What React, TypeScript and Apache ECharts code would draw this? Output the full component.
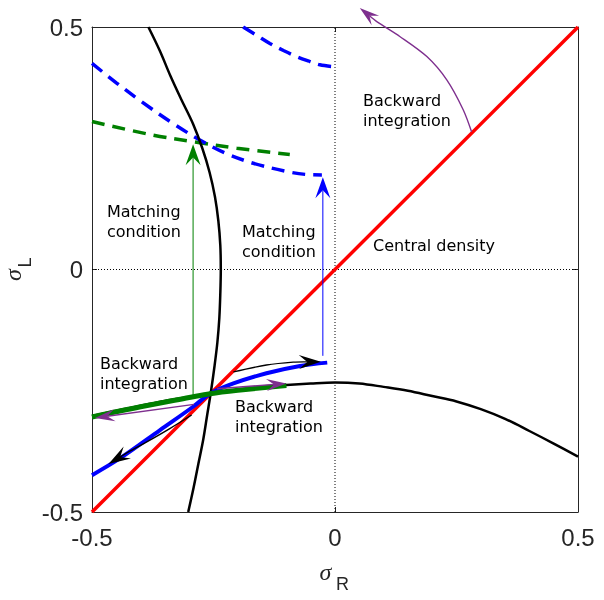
import React, { useEffect, useRef } from "react";
import * as echarts from "echarts";

const AXIS_MIN = -0.5;
const AXIS_MAX = 0.5;
const TICK_STEP = 0.5;
const tickLabels: Record<string, string> = { "-0.5": "-0.5", "0": "0", "0.5": "0.5" };

// [σR, σL]
const centralDensity: number[][] = [[-0.5, -0.5], [0.5, 0.5]];

const boundaryA: number[][] = [
  [-0.384, 0.5], [-0.36, 0.45], [-0.339, 0.4], [-0.316, 0.35], [-0.292, 0.3], [-0.273, 0.25],
  [-0.258, 0.2], [-0.247, 0.15], [-0.24, 0.1], [-0.236, 0.05], [-0.235, 0], [-0.236, -0.05],
  [-0.238, -0.1], [-0.242, -0.15], [-0.248, -0.2], [-0.255, -0.25], [-0.263, -0.3],
  [-0.271, -0.35], [-0.281, -0.4], [-0.291, -0.45], [-0.302, -0.5],
];

const boundaryB: number[][] = [
  [-0.5, -0.302], [-0.45, -0.291], [-0.4, -0.281], [-0.35, -0.271], [-0.3, -0.263], [-0.25, -0.255],
  [-0.2, -0.248], [-0.15, -0.242], [-0.1, -0.238], [-0.05, -0.235], [0, -0.233], [0.05, -0.235],
  [0.1, -0.242], [0.15, -0.25], [0.2, -0.261], [0.25, -0.272], [0.3, -0.288], [0.35, -0.308],
  [0.4, -0.333], [0.45, -0.359], [0.5, -0.386],
];

const greenSolid: number[][] = [
  [-0.5, -0.304], [-0.4, -0.283], [-0.3, -0.264], [-0.257, -0.256], [-0.2, -0.249], [-0.1, -0.239],
];

const blueSolid: number[][] = [
  [-0.5, -0.424], [-0.442, -0.389], [-0.36, -0.331], [-0.292, -0.283], [-0.257, -0.256],
  [-0.209, -0.235], [-0.141, -0.214], [-0.072, -0.199], [-0.016, -0.192],
];

const blueDashUpper: number[][] = [
  [-0.189, 0.5], [-0.16, 0.482], [-0.134, 0.466], [-0.105, 0.451], [-0.079, 0.439],
  [-0.055, 0.43], [-0.031, 0.422], [0, 0.418],
];

const blueDashLower: number[][] = [
  [-0.5, 0.425], [-0.45, 0.385], [-0.398, 0.346], [-0.333, 0.301], [-0.278, 0.267],
  [-0.226, 0.24], [-0.168, 0.219], [-0.099, 0.202], [-0.06, 0.196], [-0.027, 0.195],
];

const greenDash: number[][] = [
  [-0.5, 0.305], [-0.374, 0.277], [-0.288, 0.263], [-0.202, 0.25], [-0.093, 0.237],
];

const zeroV: number[][] = [[0, -0.5], [0, 0.5]];
const zeroH: number[][] = [[-0.5, 0], [0.5, 0]];

// arrows (last point = tip)
const arrowGreen: number[][] = [[-0.292, -0.262], [-0.292, 0.258]];
const arrowBlue: number[][] = [[-0.025, -0.178], [-0.025, 0.19]];
const arrowBlackUpper: number[][] = [[-0.209, -0.211], [-0.141, -0.197], [-0.086, -0.191], [-0.029, -0.19]];
const arrowBlackLower: number[][] = [[-0.295, -0.3], [-0.34, -0.328], [-0.39, -0.357], [-0.43, -0.379], [-0.466, -0.401]];
const arrowPurpleRight: number[][] = [[-0.243, -0.246], [-0.1, -0.235]];
const arrowPurpleLeft: number[][] = [[-0.29, -0.278], [-0.494, -0.306]];
const arrowPurpleTop: number[][] = [
  [0.281, 0.284], [0.264, 0.329], [0.23, 0.391], [0.189, 0.439], [0.134, 0.48], [0.086, 0.511], [0.051, 0.539],
];

const PURPLE = "#7E2F8E";
const GREEN = "#008000";
const BLUE = "#0000FF";
const RED = "#FF0000";
const AX = "#262626";

function lineSeries(data: number[][], color: string, width: number, dash?: any, z = 3) {
  return {
    type: "line",
    data,
    symbol: "none",
    smooth: 0.35,
    z,
    silent: true,
    lineStyle: { color, width, type: dash || "solid", cap: "butt" },
  };
}

function arrowSeries(pts: number[][], color: string, width: number, headLen: number, headHalf: number) {
  return {
    type: "custom",
    coordinateSystem: "cartesian2d",
    clip: false,
    silent: true,
    z: 6,
    data: [pts[pts.length - 1]],
    encode: { x: 0, y: 1 },
    renderItem: (_params: any, api: any) => {
      const px = pts.map((p) => api.coord(p));
      const tip = px[px.length - 1];
      const prev = px[px.length - 2];
      let dx = tip[0] - prev[0];
      let dy = tip[1] - prev[1];
      const len = Math.hypot(dx, dy) || 1;
      dx /= len;
      dy /= len;
      const nx = -dy;
      const ny = dx;
      const bx = tip[0] - dx * headLen;
      const by = tip[1] - dy * headLen;
      const notch = [tip[0] - dx * headLen * 0.62, tip[1] - dy * headLen * 0.62];
      return {
        type: "group",
        children: [
          {
            type: "polyline",
            shape: { points: px.slice(0, -1).concat([notch]), smooth: px.length > 2 ? 0.3 : 0 },
            style: { stroke: color, lineWidth: width, fill: null },
          },
          {
            type: "polygon",
            shape: {
              points: [tip, [bx + nx * headHalf, by + ny * headHalf], notch, [bx - nx * headHalf, by - ny * headHalf]],
            },
            style: { fill: color, stroke: null },
          },
        ],
      };
    },
  };
}

function annot(text: string, x: number, y: number) {
  return {
    type: "text",
    x,
    y,
    silent: true,
    z: 10,
    style: {
      text,
      fill: "#000",
      fontSize: 16,
      fontFamily: "DejaVu Sans",
      lineHeight: 20,
      align: "left",
      textAlign: "left",
      verticalAlign: "middle",
      textVerticalAlign: "middle",
    },
  };
}

function label(text: string, x: number, y: number, size: number, family: string, italic: boolean, rot = 0) {
  return {
    type: "text",
    x,
    y,
    rotation: rot,
    silent: true,
    z: 10,
    style: {
      text,
      fill: AX,
      fontSize: size,
      fontFamily: family,
      fontStyle: italic ? "italic" : "normal",
      lineHeight: Math.round(size * 0.7),
      align: "center",
      textAlign: "center",
      verticalAlign: "middle",
      textVerticalAlign: "middle",
    },
  };
}

export default function App() {
  const ref = useRef<HTMLDivElement>(null);
  useEffect(() => {
    if (!ref.current) return;
    const chart = echarts.init(ref.current, undefined, { renderer: "svg" });
    const axisCommon = {
      type: "value",
      min: AXIS_MIN,
      max: AXIS_MAX,
      interval: TICK_STEP,
      splitLine: { show: false },
      axisLine: { show: true, onZero: false, lineStyle: { color: AX, width: 1 } },
      axisTick: { show: true, inside: true, length: 5, lineStyle: { color: AX, width: 1 } },
    };
    const labelStyle = {
      color: AX,
      fontSize: 24,
      fontFamily: "Liberation Sans",
      formatter: (v: number) => tickLabels[String(v)] ?? String(v),
    };
    chart.setOption({
      animation: false,
      grid: { left: 92, top: 27, width: 486, height: 485 },
      xAxis: [
        { ...axisCommon, position: "bottom", axisLabel: { ...labelStyle, margin: 13 } },
        { ...axisCommon, position: "top", axisLabel: { show: false } },
      ],
      yAxis: [
        { ...axisCommon, position: "left", axisLabel: { ...labelStyle, margin: 9 } },
        { ...axisCommon, position: "right", axisLabel: { show: false } },
      ],
      series: [
        { ...lineSeries(zeroV, "#000", 1, [1, 2], 1), smooth: false },
        { ...lineSeries(zeroH, "#000", 1, [1, 2], 1), smooth: false },
        lineSeries(blueDashUpper, BLUE, 3.5, [13, 8]),
        lineSeries(greenDash, GREEN, 3.5, [13, 8]),
        lineSeries(blueDashLower, BLUE, 3.5, [13, 8]),
        { ...lineSeries(centralDensity, RED, 3.5), smooth: false },
        lineSeries(boundaryA, "#000", 2.5),
        lineSeries(boundaryB, "#000", 2.5),
        lineSeries(blueSolid, BLUE, 4, undefined, 4),
        lineSeries(greenSolid, GREEN, 5, undefined, 4),
        arrowSeries(arrowGreen, GREEN, 1, 21, 7.5),
        arrowSeries(arrowBlue, BLUE, 1, 21, 7.5),
        arrowSeries(arrowBlackUpper, "#000", 1.4, 22, 7),
        arrowSeries(arrowBlackLower, "#000", 1.4, 22, 7),
        arrowSeries(arrowPurpleRight, PURPLE, 1.4, 20, 6),
        arrowSeries(arrowPurpleLeft, PURPLE, 1.4, 20, 6),
        arrowSeries(arrowPurpleTop, PURPLE, 1.4, 20, 6),
      ],
      graphic: [
        annot("Matching\ncondition", 107, 221.5),
        annot("Matching\ncondition", 242, 241),
        annot("Backward\nintegration", 363, 110.5),
        annot("Central density", 373, 245.5),
        annot("Backward\nintegration", 100, 373.5),
        annot("Backward\nintegration", 235, 416.5),
        label("σ", 325.5, 572.4, 24, "Liberation Serif", true),
        label("R", 342.5, 583.5, 18, "Liberation Sans", false),
        label("σ", 12.5, 275, 24, "Liberation Serif", true, Math.PI / 2),
        label("L", 25, 262.5, 18, "Liberation Sans", false, Math.PI / 2),
      ],
    });
    return () => chart.dispose();
  }, []);
  return <div ref={ref} style={{ position: "fixed", left: 0, top: 0, width: 604, height: 600 }} />;
}
